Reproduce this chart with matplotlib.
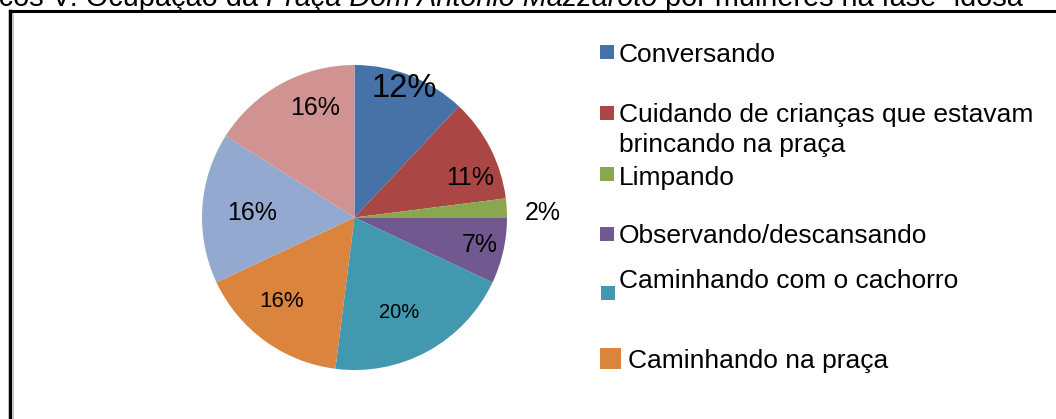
import matplotlib
matplotlib.use("Agg")
import matplotlib.pyplot as plt
from matplotlib.patches import Rectangle

# --- data -------------------------------------------------------------
shares = [12, 11, 2, 7, 20, 16, 16, 16]          # percent, clockwise from 12 o'clock
slice_colors = ["#4672A8", "#AA4644", "#8AA64F", "#71588F",
                "#4198AF", "#DB843D", "#93A9CF", "#D09392"]
legend_labels = ["Conversando",
                 "Cuidando de crianças que estavam\nbrincando na praça",
                 "Limpando",
                 "Observando/descansando",
                 "Caminhando com o cachorro",
                 "Caminhando na praça"]
title_parts = ["Gráficos V: Ocupação da ",
               "Praça Dom Antonio Mazzaroto",
               " por mulheres na fase \u201cidosa\u201d"]

# --- layout (pixel units, y measured from the top) ---------------------
W, H = 1056, 419
FONT = "Liberation Sans"
TITLE_SIZE = 20.8
pie_center = (354.5, 217.5)
pie_radius = 152.5
# label anchor (x centre, baseline y) and font size for each slice
label_pos = [(404, 96.7), (470, 185), (543, 220), (480, 251.7),
             (399, 318.3), (282, 306.7), (252, 220), (315, 115)]
label_size = [23.5, 18, 18, 18, 14.5, 16, 18, 18]
# legend: marker box (x, top y, size), text x, text baseline y
legend_marker = [(600, 45, 14), (600, 106, 14), (600, 167, 14),
                 (600, 227, 14), (601, 286, 14), (600, 348, 21)]
legend_text = [(619, 61.7), (619, 121.7), (619, 185), (619, 242.7),
               (619, 288.3), (628, 368.3)]


def py(y):
    """Convert a top-down pixel row into the axes' bottom-up data y."""
    return H - y


fig = plt.figure(figsize=(W / 100, H / 100), dpi=100)
ax = fig.add_axes([0, 0, 1, 1])

# frame around the chart area (extends past the right and bottom edges)
ax.plot([10, 10], [py(11), py(H + 5)], color="black", lw=2.5,
        solid_capstyle="projecting")
ax.plot([10, W + 5], [py(11), py(11)], color="black", lw=2.2,
        solid_capstyle="projecting")
ax.plot([12.5, 12.5], [py(13), py(H + 5)], color="#c8c8c8", lw=0.8)

# title, with the square's name in italics
t0 = ax.text(266, py(6.5), title_parts[0], ha="right", va="baseline",
             fontsize=TITLE_SIZE, family=FONT)
t1 = ax.annotate(title_parts[1], xy=(1, 0), xycoords=t0, ha="left",
                 va="bottom", fontsize=TITLE_SIZE, family=FONT, style="italic")
ax.annotate(title_parts[2], xy=(1, 0), xycoords=t1, ha="left",
            va="bottom", fontsize=TITLE_SIZE, family=FONT)

# pie
ax.pie(shares, colors=slice_colors, startangle=90, counterclock=False,
       center=(pie_center[0], py(pie_center[1])), radius=pie_radius,
       wedgeprops=dict(linewidth=0), frame=True)
ax.set_xlim(0, W)
ax.set_ylim(0, H)
ax.set_aspect("auto")
ax.axis("off")

for value, (x, y), fs in zip(shares, label_pos, label_size):
    ax.text(x, py(y), f"{value}%", ha="center", va="baseline",
            fontsize=fs, family=FONT, color="black")

# legend
for label, color, (mx, my, ms), (tx, ty) in zip(legend_labels, slice_colors,
                                                legend_marker, legend_text):
    ax.add_patch(Rectangle((mx, py(my + ms)), ms, ms, facecolor=color,
                           edgecolor="none"))
    lines = label.split("\n")
    for i, line in enumerate(lines):
        ax.text(tx, py(ty + 30 * i), line, ha="left", va="baseline",
                fontsize=19, family=FONT, color="black")

fig.savefig("out.png", dpi=100, facecolor="white")
